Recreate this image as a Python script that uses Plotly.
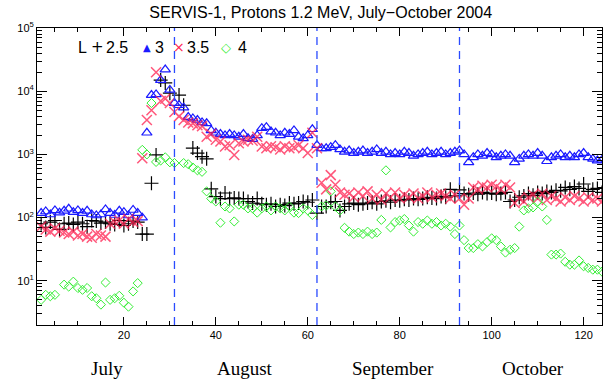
import plotly.graph_objects as go

# ---- data -------------------------------------------------------------
days = list(range(2, 125))

l25 = ([80, 70, 85, 90, 65, 80, 82, 78, 85, 80, 72, 90, 88, 82, 85, 80, 78, 90, 75, 80, 88, 85, 55]
       + [55, 350, 980, 15000, 13500, 9300, None, 8700, 6000, None, 1260, 1050, 920, 850, 285, 215, 200, 245, 200, 205]
       + [200, 200, 180, 170, 200, 165, 160, 165, 150, 160, 155, 170, 165, 170, 180, 175, 190, 118, 150, 150]
       + [175, 180, 130, 150, 165, 170, 160, 165, 170, 175, 165, 180, 185, 175, 190, 185, 195, 190, 200, 195]
       + [200, 210, 205, 200, 215, 210, 280, 220, 275, 240, 230, 245, 235, 250, 240, 245, 235, 240, 250, 180]
       + [190, 210, 220, 240, 225, 250, 240, 260, 250, 270, 265, 300, 280, 310, 290, 340, 260, 280, 290, 250])

l3 = ([118, 125, 112, 130, 120, 128, 138, 122, 130, 118, 128, 112, 108, 112, 135, 118, 110, 128, 122, 108, 132, 118, 100]
      + [2200, 8700, 8900, 15000, 22000, 10500, 6500, 6000, 5500, 3900, 3700, 3500, 3200, 3100, 2400, 2200, 2100, 2000, 2100, 2000]
      + [1900, 2100, 1800, 1750, 2000, 2600, 2700, 2300, 2200, 2000, 2200, 2100, 2400, 1900, 1800, 2000, 2500, 1400, 1250, 1250]
      + [1300, 1400, 1200, 1100, 1150, 1050, 1100, 1150, 1050, 1100, 1200, 1050, 1100, 1000, 1050, 1000, 1100, 1050, 950, 1000]
      + [1050, 1100, 1000, 1050, 1100, 1000, 1050, 1100, 1150, 1000, 750, 900, 1000, 950, 1050, 1000, 900, 950, 1000, 950]
      + [750, 850, 950, 1000, 950, 1050, 950, 780, 900, 950, 1000, 900, 950, 900, 1000, 1050, 900, 850, 800, 820])

l35 = ([72, 65, 60, 68, 62, 58, 55, 60, 52, 55, 50, 48, 55, 52, 50, 80, 85, 90, 80, 95, 85, 88, 870]
       + [3500, 5000, 20000, 7000, 7600, 6500, 4700, 4000, 3500, 3200, 3100, 2900, 2800, 1900, 2100, 1700, 1600, 1330, 1400, 980]
       + [1500, 1600, 1700, 1650, 1900, 1330, 1250, 1350, 1300, 1200, 1350, 1250, 1300, 1400, 1250, 1050, 2200, 1250, 355, 280]
       + [470, 330, 250, 230, 240, 210, 250, 220, 260, 200, 230, 190, 240, 210, 250, 200, 230, 210, 240, 200]
       + [220, 250, 210, 230, 240, 220, 200, 230, 200, 160, 200, 300, 280, 320, 300, 330, 310, 280, 330, 300]
       + [170, 200, 180, 210, 230, 200, 240, 190, 220, 200, 180, 210, 190, 220, 200, 180, 210, 190, 200, 180])

l4 = ([5.0, 6.0, 5.7, 6.0, None, 8.7, 8.1, 9.7, 7.7, 7.2, 7.7, 5.7, 5.3, 4.2, 9.4, 5.0, 5.3, 5.8, 4.5, 3.9, 6.8, 9.2, 1180]
      + [1000, 6500, 760, 800, 900, 750, 730, None, 730, 700, 620, 560, 530, 260, 200, 180, 83, 150, 140, 87]
      + [160, 160, 140, 140, 120, 140, 150, 130, 150, 140, 130, 150, 120, 118, 140, 130, 110, None, 150, 155]
      + [260, 150, 130, 69, 60, 55, 58, 55, 60, 55, 58, 92, 560, 70, 85, 90, 95, 75, 60, 85]
      + [80, 90, 80, 85, 75, 80, 72, 55, 75, 44, 33, 33, 38, 35, 41, 47, 44, 35, 28, 31]
      + [33, 72, 130, 140, 145, 180, 150, 92, 26, 26, 27, 20, 18, 18, 21, 17, 16, 15, 15, 14])

month_names = ["July", "August", "September", "October"]
month_centers = [16.4, 46.4, 78.5, 109.0]
month_bounds = [31, 62, 93]
x_ticks = [20, 40, 60, 80, 100, 120]
y_ticks = [10, 100, 1000, 10000, 100000]
y_ticktext = ["10<sup>1</sup>", "10<sup>2</sup>", "10<sup>3</sup>", "10<sup>4</sup>", "10<sup>5</sup>"]

legend_title = "L"
legend_labels = ["2.5", "3", "3.5", "4"]
legend_symbols = ["+", "▲", "×", "◇"]

# ---- figure -----------------------------------------------------------
BLACK = "#000000"
BLUE = "#1a1aff"
RED = "#ff1f4f"
GREEN = "#33ee33"
colors = [BLACK, BLUE, RED, GREEN]

fig = go.Figure()
fig.add_trace(go.Scatter(x=days, y=l25, mode="markers", name="2.5",
                         marker=dict(symbol="cross-thin-open", size=10, color=BLACK,
                                     line=dict(color=BLACK, width=1.2))))
fig.add_trace(go.Scatter(x=days, y=l3, mode="markers", name="3",
                         marker=dict(symbol="triangle-up-open", size=9, color=BLUE,
                                     line=dict(color=BLUE, width=1.2))))
fig.add_trace(go.Scatter(x=days, y=l35, mode="markers", name="3.5", opacity=0.75,
                         marker=dict(symbol="x-thin-open", size=10, color=RED,
                                     line=dict(color=RED, width=1.5))))
fig.add_trace(go.Scatter(x=days, y=l4, mode="markers", name="4",
                         marker=dict(symbol="diamond-open", size=7, color=GREEN,
                                     line=dict(color=GREEN, width=1))))

for b in month_bounds:
    fig.add_shape(type="line", xref="x", yref="paper", x0=b, x1=b, y0=0, y1=1,
                  line=dict(color="#2a4bff", width=1.3, dash="8px,6px"))

for name, c in zip(month_names, month_centers):
    fig.add_annotation(x=c, y=-0.145, xref="x", yref="paper", text=name, showarrow=False,
                       font=dict(family="Liberation Serif", size=19, color="black"),
                       xanchor="center", yanchor="middle")

# legend drawn as text pieces, positioned in pixels from the plot's left edge
PLOT_L, PLOT_W = 37, 565
def px(xp):
    return (xp - PLOT_L) / PLOT_W

leg_y = 0.936
fig.add_annotation(x=px(76), y=leg_y, xref="paper", yref="paper", text=legend_title,
                   showarrow=False, xanchor="left", yanchor="middle",
                   font=dict(family="Liberation Sans", size=16, color="black"))
sym_x = [97, 147, 179, 226]
lab_x = [104, 153, 185, 236]
sym_size = [15, 10, 14, 13]
for s, lab, c, sx, lx, ss in zip(legend_symbols, legend_labels, colors, sym_x, lab_x, sym_size):
    fig.add_annotation(x=px(sx), y=leg_y, xref="paper", yref="paper", text=s,
                       showarrow=False, xanchor="center", yanchor="middle",
                       font=dict(family="DejaVu Sans", size=ss, color=c))
    fig.add_annotation(x=px(lx), y=leg_y, xref="paper", yref="paper", text=lab,
                       showarrow=False, xanchor="left", yanchor="middle",
                       font=dict(family="Liberation Sans", size=16, color="black"))

axis_common = dict(showline=True, linecolor="black", linewidth=1, mirror="ticks",
                   ticks="inside", tickcolor="black", showgrid=False, zeroline=False,
                   tickfont=dict(family="Liberation Sans", size=11, color="black"))

fig.update_xaxes(range=[1.1, 124], tickvals=x_ticks, ticklen=8,
                 minor=dict(dtick=5, tick0=0, ticks="inside", ticklen=4, tickcolor="black"),
                 **axis_common)
minor_y = [m * 10 ** e for e in range(0, 5) for m in range(2, 10)]
fig.update_yaxes(type="log", range=[0.301, 5], tickvals=y_ticks, ticktext=y_ticktext, ticklen=10,
                 minor=dict(tickvals=minor_y, ticks="inside", ticklen=5, tickcolor="black"),
                 **axis_common)

fig.update_layout(
    width=604, height=380,
    margin=dict(l=37, r=2, t=28, b=55),
    paper_bgcolor="white", plot_bgcolor="white",
    showlegend=False,
    title=dict(text="SERVIS-1, Protons 1.2 MeV, July\u2212October 2004", x=0.531, xanchor="center",
               y=0.967, yanchor="middle",
               font=dict(family="Liberation Sans", size=16, color="black")),
)

fig.write_html("out.html")
